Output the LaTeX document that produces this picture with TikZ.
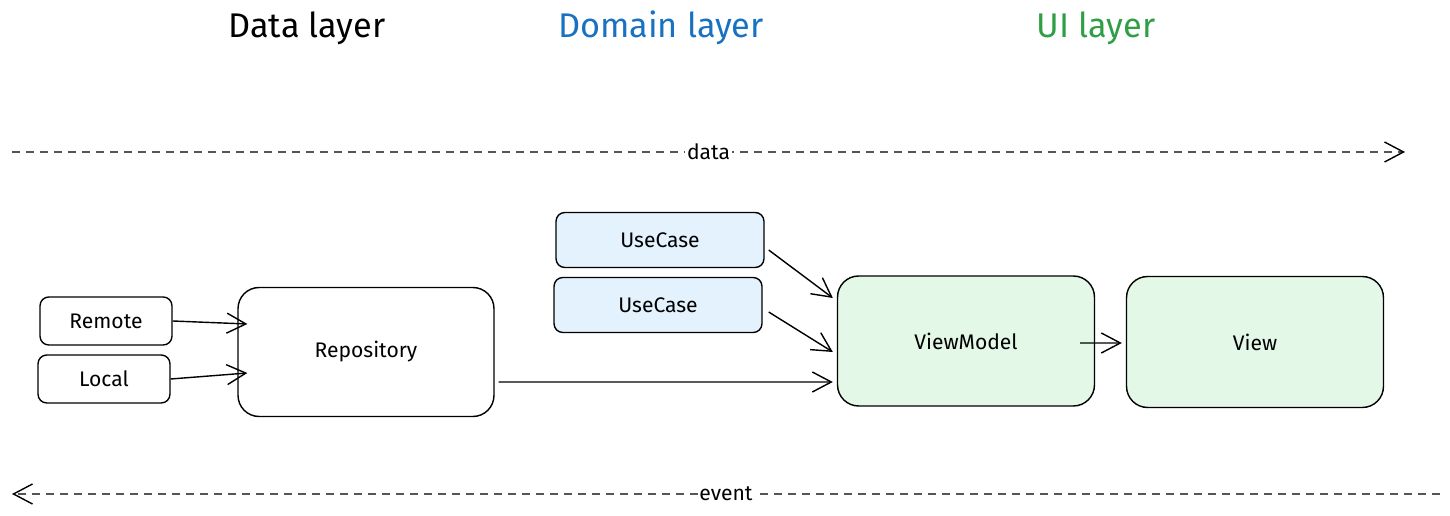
\documentclass[tikz,border=0pt]{standalone}
\usepackage{fontspec}
\setmainfont{Fira Sans}
\usepackage{tikz}
\usetikzlibrary{arrows.meta}

\definecolor{domainblue}{HTML}{1971C2}
\definecolor{uigreen}{HTML}{2F9E44}
\definecolor{hatchblue}{HTML}{E3F2FD}
\definecolor{hatchgreen}{HTML}{E3F8E6}
\definecolor{flowgray}{HTML}{555555}

\begin{document}
\begin{tikzpicture}[
        x=0.02cm, y=-0.02cm,
        font=\fontsize{12}{14}\selectfont,
        layer/.style={font=\fontsize{19.5}{22}\selectfont},
        smallbox/.style={draw, line width=0.8pt, rounded corners=5pt, minimum width=2.64cm, minimum height=0.96cm},
        casebox/.style={smallbox, fill=hatchblue, minimum width=4.16cm, minimum height=1.1cm},
        bigbox/.style={draw, line width=0.8pt, rounded corners=12pt, minimum width=5.14cm, minimum height=2.6cm},
        uibox/.style={bigbox, fill=hatchgreen},
        link/.style={-{Straight Barb[length=3.8mm, width=4mm]}, line width=0.8pt},
        flow/.style={dashed, dash pattern=on 0.16cm off 0.12cm, line width=0.8pt, flowgray,
            arrows={-Straight Barb[length=3.8mm, width=4mm, black]}},
    ]
    \useasboundingbox (0,0) rectangle (1450,516);

    % --- Layer titles ---
    \node[layer] (datalayer) at (307,28) {Data layer};
    \node[layer, domainblue] (domainlayer) at (661,28) {Domain layer};
    \node[layer, uigreen] (uilayer) at (1096,28) {UI layer};

    % --- Flow of data and events ---
    \coordinate (datastart) at (12,152);
    \coordinate (dataend) at (1405,152);
    \coordinate (eventstart) at (1440,494);
    \coordinate (eventend) at (12,494);
    \draw[flow] (datastart) -- node[fill=white, text=black, inner sep=1pt] (datalabel) {data} (dataend);
    \draw[flow] (eventstart) -- node[fill=white, text=black, inner sep=1pt] (eventlabel) {event} (eventend);

    % --- Data layer ---
    \node[smallbox] (remote) at (106,321) {Remote};
    \node[smallbox] (local) at (104,379) {Local};
    \node[bigbox, minimum width=5.12cm, minimum height=2.58cm] (repository) at (366,352) {Repository};

    % --- Domain layer ---
    \node[casebox] (usecasea) at (660,240) {UseCase};
    \node[casebox] (usecaseb) at (658,305) {UseCase};

    % --- UI layer ---
    \node[uibox] (viewmodel) at (966,341) {ViewModel};
    \node[uibox, minimum height=2.62cm] (view) at (1255,342) {View};

    % --- Connectors ---
    \draw[link] (remote.east) -- ([xshift=0.2cm, yshift=-0.06cm]repository.west |- remote.east);
    \draw[link] (local.east) -- ([xshift=0.2cm, yshift=0.12cm]repository.west |- local.east);
    \draw[link] ([xshift=0.08cm, yshift=-0.6cm]repository.east) -- ([xshift=-0.08cm]viewmodel.west |- 0,382);
    \draw[link] ([xshift=0.08cm, yshift=-0.2cm]usecasea.east) -- ([xshift=-0.08cm]viewmodel.west |- 0,298);
    \draw[link] ([xshift=0.12cm, yshift=-0.14cm]usecaseb.east) -- ([xshift=-0.08cm]viewmodel.west |- 0,352);
    \draw[link] ([xshift=-0.3cm, yshift=-0.04cm]viewmodel.east) -- ([xshift=-0.08cm, yshift=-0.02cm]view.west);
\end{tikzpicture}
\end{document}
